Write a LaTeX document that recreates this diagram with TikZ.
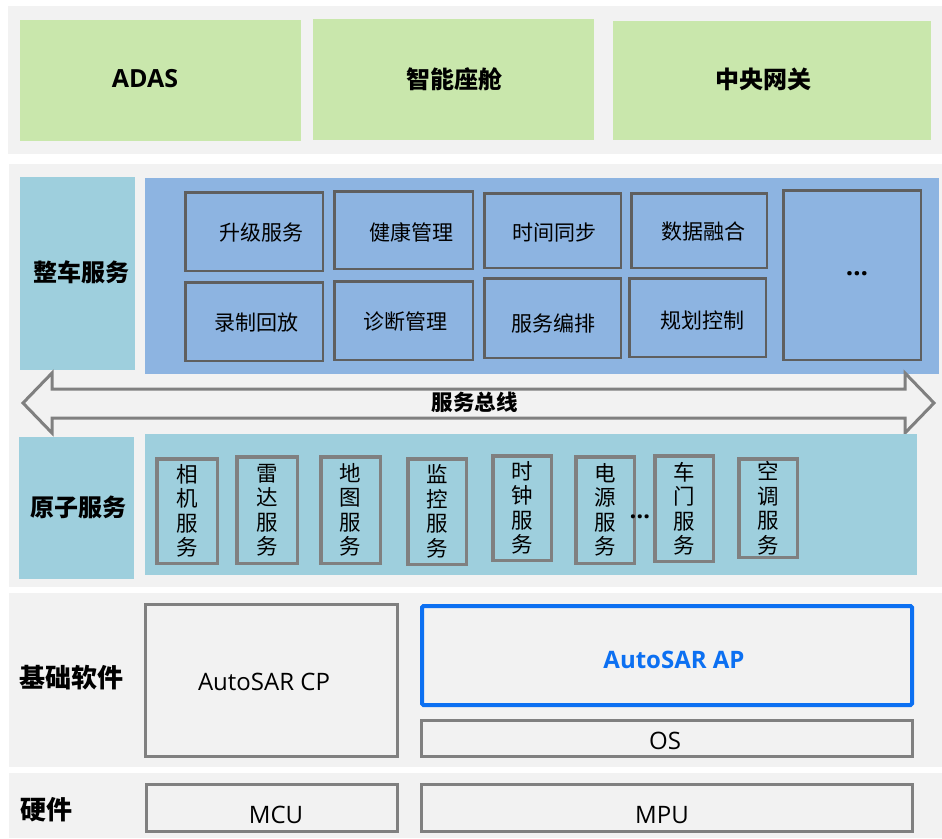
\documentclass[tikz,border=0pt]{standalone}
\usepackage{fontspec}
\setmainfont{Noto Sans CJK SC}
\newfontfamily\latinfont{Open Sans}
\definecolor{bandgray}{HTML}{F2F2F2}
\definecolor{greenbox}{HTML}{C9E7AC}
\definecolor{lblue}{HTML}{9ECFDD}
\definecolor{mblue}{HTML}{8DB4E1}
\definecolor{darkedge}{HTML}{5F5F5F}
\definecolor{grayedge}{HTML}{808080}
\definecolor{apblue}{HTML}{0C70F2}
\tikzset{
  band/.style={fill=bandgray},
  greenbx/.style={fill=greenbox, draw=none, inner sep=0pt},
  lblbox/.style={fill=lblue, draw=none, inner sep=0pt},
  panel/.style={draw=none, inner sep=0pt},
  svcbox/.style={draw=darkedge, line width=2.5pt, inner sep=0pt},
  atombox/.style={draw=grayedge, line width=3.5pt, inner sep=0pt},
  basebox/.style={draw=grayedge, line width=3pt, fill=bandgray, inner sep=0pt},
  apbox/.style={draw=apblue, line width=4pt, fill=bandgray, inner sep=0pt, rounded corners=1.5pt},
  toplbl/.style={font=\bfseries\fontsize{24}{28}\selectfont},
  sidelbl/.style={font=\bfseries\fontsize{24}{28}\selectfont},
  basicl/.style={font=\bfseries\fontsize{26}{30}\selectfont},
  svctxt/.style={font=\fontsize{21}{25}\selectfont},
  vtxt/.style={font=\fontsize{21.5}{24.5}\selectfont, align=center, inner sep=0pt},
  lattxt/.style={font=\latinfont\fontsize{24}{28}\selectfont, inner sep=0pt},
  dotstxt/.style={font=\latinfont\bfseries\fontsize{26}{30}\selectfont, inner sep=0pt, anchor=base},
}
\begin{document}
\begin{tikzpicture}[x=1pt,y=-1pt]
\useasboundingbox (0,0) rectangle (942,838);
\fill[white] (0,0) rectangle (942,838);
% bands
\fill[band] (8,6) rectangle (942,154);
\fill[band] (9,164) rectangle (942,587);
\fill[band] (9,593) rectangle (942,767);
\fill[band] (9,773) rectangle (942,838);

% top row
\node[greenbx, minimum width=281pt, minimum height=121pt] (adasbox) at (160.5,80.5) {};
\node[greenbx, minimum width=281pt, minimum height=121pt] (cockpitbox) at (453.5,79.5) {};
\node[greenbx, minimum width=318pt, minimum height=119pt] (gwbox) at (772,80.5) {};
\node[font=\latinfont\bfseries\fontsize{25}{29}\selectfont, inner sep=0pt] (adas) at (145,79) {ADAS};
\node[toplbl] (cockpit) at (454,79) {智能座舱};
\node[toplbl] (gw) at (763,79) {中央网关};

% vehicle services
\node[lblbox, minimum width=115pt, minimum height=193pt] (vehlblbox) at (77.5,273.5) {};
\node[sidelbl] (vehlbl) at (81,272) {整车服务};
\node[panel, fill=mblue, minimum width=794pt, minimum height=196pt] (vehpanel) at (542,276) {};

\node[svcbox, minimum width=137.5pt, minimum height=78.5pt] (s1) at (254,231.5) {};
\node[svcbox, minimum width=138.5pt, minimum height=77.5pt] (s2) at (403.5,230) {};
\node[svcbox, minimum width=136.5pt, minimum height=74.5pt] (s3) at (552.5,230.5) {};
\node[svcbox, minimum width=135.5pt, minimum height=74.5pt] (s4) at (699,230.5) {};
\node[svcbox, minimum width=137.5pt, minimum height=78.5pt] (s5) at (254,321.5) {};
\node[svcbox, minimum width=138.5pt, minimum height=78.5pt] (s6) at (403.5,320.5) {};
\node[svcbox, minimum width=136.5pt, minimum height=79.5pt] (s7) at (552.5,318) {};
\node[svcbox, minimum width=136.5pt, minimum height=78.5pt] (s8) at (697.5,317.5) {};
\node[svcbox, minimum width=137.5pt, minimum height=169.5pt] (s9) at (852,275) {};

\node[svctxt] (t1) at (261,233) {升级服务};
\node[svctxt] (t2) at (411,232) {健康管理};
\node[svctxt] (t3) at (554,233) {时间同步};
\node[svctxt] (t4) at (703,232) {数据融合};
\node[svctxt] (t5) at (256,323) {录制回放};
\node[svctxt] (t6) at (405,322) {诊断管理};
\node[svctxt] (t7) at (553,323) {服务编排};
\node[svctxt] (t8) at (702,320) {规划控制};
\node[dotstxt] (t9) at (857,275.5) {…};

% service bus arrow
\draw[draw=grayedge, line width=3pt, fill=bandgray, line join=miter]
  (23,403) -- (52,373) -- (52,389) -- (905,389) -- (905,373) -- (934,403)
  -- (905,433) -- (905,418) -- (52,418) -- (52,433) -- cycle;
\node[font=\bfseries\fontsize{21.5}{25}\selectfont] (bus) at (474.5,402) {服务总线};

% atomic services
\node[lblbox, minimum width=115pt, minimum height=142pt] (atomlblbox) at (76.5,508) {};
\node[sidelbl] (atomlbl) at (78,507) {原子服务};
\node[panel, fill=lblue, minimum width=772pt, minimum height=141pt] (atompanel) at (531,504.5) {};

\node[atombox, minimum width=60.5pt, minimum height=104.5pt] (a1) at (187,511) {};
\node[atombox, minimum width=60.5pt, minimum height=106.5pt] (a2) at (267,510) {};
\node[atombox, minimum width=59.5pt, minimum height=106.5pt] (a3) at (350.5,510) {};
\node[atombox, minimum width=58.5pt, minimum height=105.5pt] (a4) at (437,511.5) {};
\node[atombox, minimum width=58.5pt, minimum height=104.5pt] (a5) at (522,508) {};
\node[atombox, minimum width=58.5pt, minimum height=106.5pt] (a6) at (605,510) {};
\node[atombox, minimum width=58.5pt, minimum height=105.5pt] (a7) at (684,508.5) {};
\node[atombox, minimum width=58.5pt, minimum height=98.5pt] (a8) at (768,508) {};

\node[vtxt] (v1) at (a1) {相\\机\\服\\务};
\node[vtxt] (v2) at (a2) {雷\\达\\服\\务};
\node[vtxt] (v3) at (a3) {地\\图\\服\\务};
\node[vtxt] (v4) at (a4) {监\\控\\服\\务};
\node[vtxt] (v5) at (a5) {时\\钟\\服\\务};
\node[vtxt] (v6) at (a6) {电\\源\\服\\务};
\node[vtxt] (v7) at (a7) {车\\门\\服\\务};
\node[vtxt] (v8) at (a8) {空\\调\\服\\务};
\node[dotstxt, font=\latinfont\bfseries\fontsize{24}{28}\selectfont] (adots) at (640,518) {…};

% basic software
\node[basicl] (baselbl) at (71.5,678) {基础软件};
\node[basebox, minimum width=252pt, minimum height=152pt] (cp) at (271.5,680.5) {};
\node[lattxt] (cptxt) at (264,682) {AutoSAR CP};
\node[apbox, minimum width=490pt, minimum height=99pt] (ap) at (667,655.5) {};
\node[lattxt, font=\latinfont\bfseries\fontsize{24}{28}\selectfont, text=apblue] (aptxt) at (674,660) {AutoSAR AP};
\node[basebox, minimum width=491pt, minimum height=36pt] (os) at (667,738.5) {};
\node[lattxt] (ostxt) at (665,741) {OS};

% hardware
\node[basicl] (hwlbl) at (46.5,810) {硬件};
\node[basebox, minimum width=251pt, minimum height=47pt] (mcu) at (272,808) {};
\node[lattxt] (mcutxt) at (276,815) {MCU};
\node[basebox, minimum width=491pt, minimum height=47pt] (mpu) at (667,808) {};
\node[lattxt] (mputxt) at (662,815) {MPU};
\end{tikzpicture}
\end{document}
